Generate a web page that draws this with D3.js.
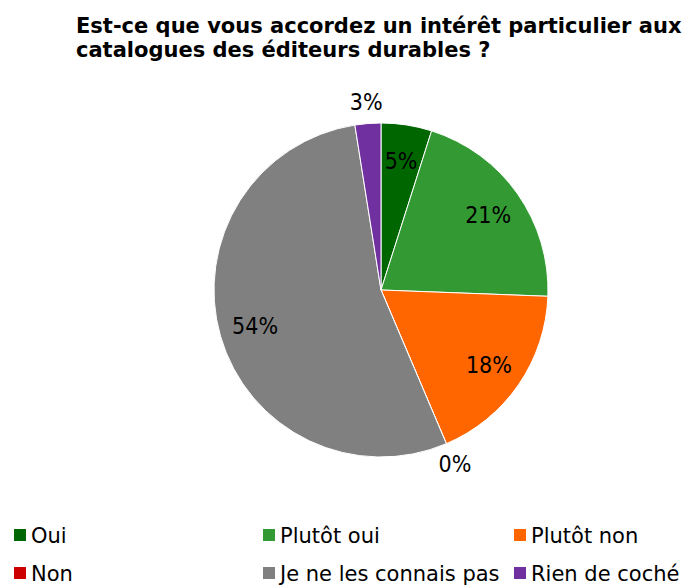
<!DOCTYPE html>
<html><head><meta charset="utf-8">
<script src="https://cdn.jsdelivr.net/npm/d3@7"></script>
<style>body{margin:0;background:#fff}svg{display:block}</style>
</head><body>
<svg id="c" width="688" height="585"></svg>
<script>
const categories = ["Oui","Plutôt oui","Plutôt non","Non","Je ne les connais pas","Rien de coché"];
const values = [4.9, 20.7, 18.0, 0, 53.9, 2.5];
const labels = ["5%","21%","18%","0%","54%","3%"];
const colors = ["#006600","#339933","#ff6600","#cc0000","#808080","#7030a0"];
const titleLines = ["Est-ce que vous accordez un intérêt particulier aux","catalogues des éditeurs durables ?"];

const svg = d3.select("#c");
const cx = 381, cy = 290, R = 167;
const data = categories.map((c,i)=>({c, v: values[i], l: labels[i], col: colors[i]}));
const pie = d3.pie().sort(null).value(d=>d.v);
const arcs = pie(data);
const arc = d3.arc().innerRadius(0).outerRadius(R);
const g = svg.append("g").attr("transform",`translate(${cx},${cy})`);
g.selectAll("path").data(arcs).join("path")
  .attr("d",arc).attr("fill",d=>d.data.col)
  .attr("stroke","#fff").attr("stroke-width",1);
g.selectAll("text.lab").data(arcs).join("text").attr("class","lab")
  .attr("transform",d=>{
    const a=(d.startAngle+d.endAngle)/2;
    const r = d.data.v < 4 ? 189 : 131;
    return `translate(${r*Math.sin(a)},${-r*Math.cos(a)})`;
  })
  .attr("text-anchor","middle").attr("dy","0.36em")
  .style("font-family","'DejaVu Sans Condensed','DejaVu Sans',sans-serif").style("font-size","23px")
  .attr("fill","#000").text(d=>d.data.l);

const t = svg.append("g");
titleLines.forEach((s,i)=>{
  t.append("text").attr("x",76).attr("y",33+i*24)
   .style("font-family","'DejaVu Sans', Verdana, sans-serif").style("font-weight","bold")
   .style("font-size","21px").attr("fill","#000").text(s);
});

const legX = [14,263,514], legY=[529,567];
const lg = svg.append("g");
data.forEach((d,i)=>{
  const x = legX[i%3], y = legY[Math.floor(i/3)];
  lg.append("rect").attr("x",x).attr("y",y).attr("width",12).attr("height",12).attr("fill",d.col);
  lg.append("text").attr("x",x+17).attr("y",y+13.5)
    .style("font-family","'DejaVu Sans',sans-serif").style("font-size","21px")
    .attr("fill","#000").text(d.c);
});
</script>
</body></html>
